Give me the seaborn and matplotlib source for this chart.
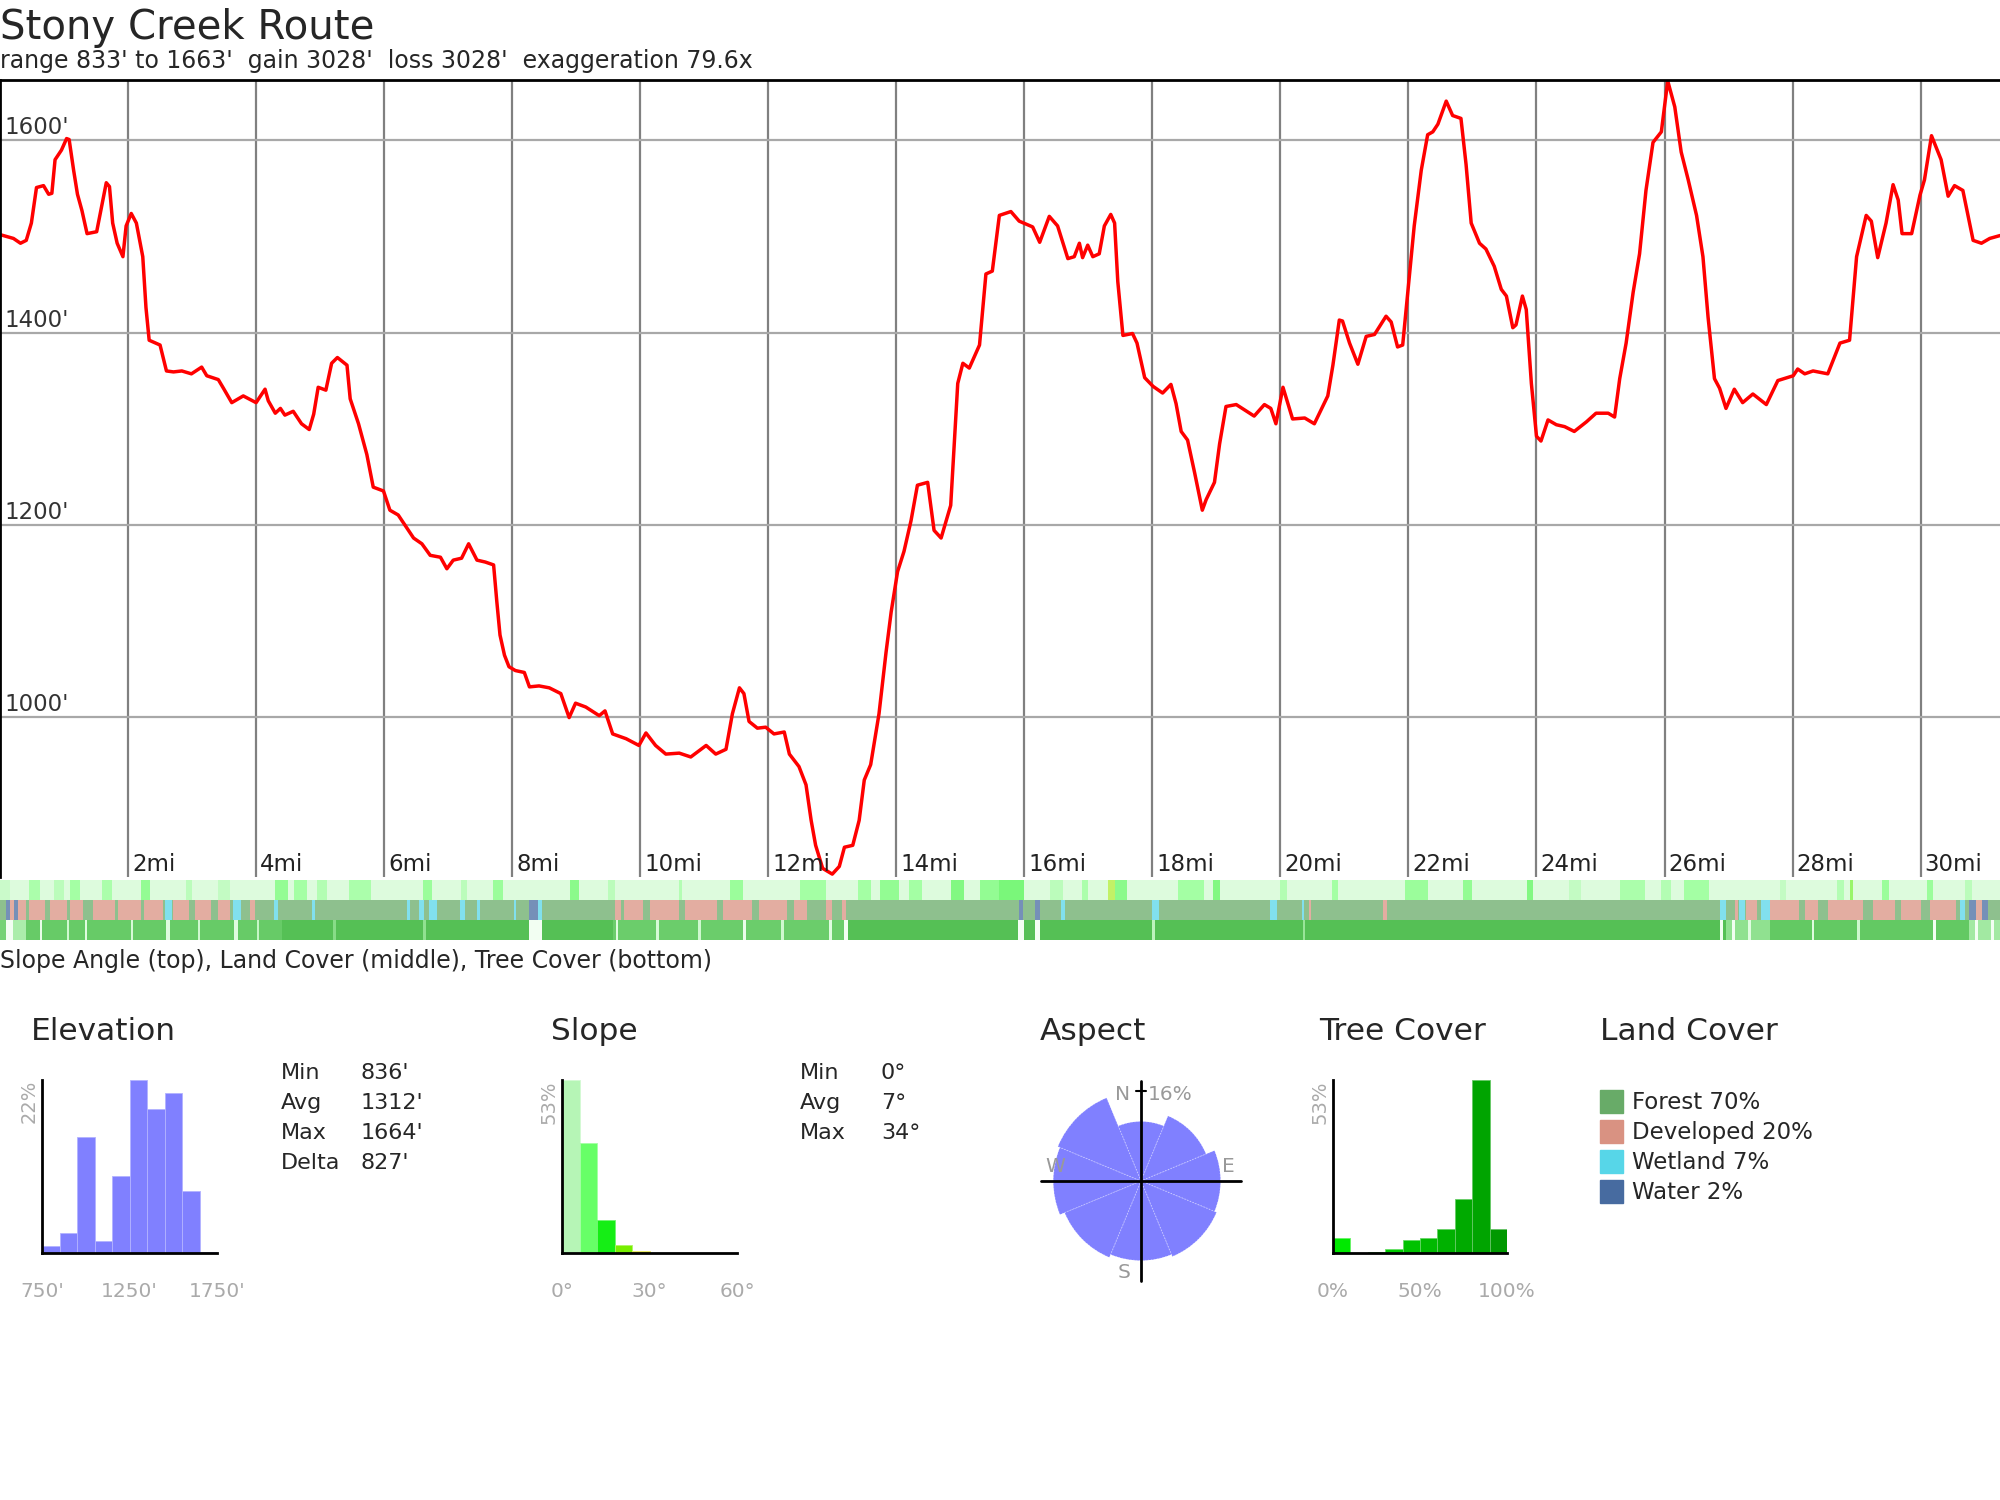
import numpy as np
import matplotlib
matplotlib.use("Agg")
import matplotlib.pyplot as plt
import seaborn as sns
from matplotlib.colors import LinearSegmentedColormap, to_rgb
from matplotlib.patches import Rectangle
from matplotlib.lines import Line2D

W, H = 2000, 1500

# --- elevation profile (miles, feet) ---
profile_mi = [0.00, 0.21, 0.32, 0.41, 0.49, 0.57, 0.68, 0.76, 0.81, 0.86,
              0.96, 1.04, 1.08, 1.15, 1.21, 1.28, 1.36, 1.51, 1.59, 1.66,
              1.71, 1.76, 1.83, 1.92, 1.97, 2.05, 2.13, 2.23, 2.28, 2.33,
              2.50, 2.60, 2.71, 2.84, 2.99, 3.15, 3.23, 3.41, 3.49, 3.62,
              3.80, 4.00, 4.14, 4.19, 4.30, 4.38, 4.45, 4.58, 4.71, 4.83,
              4.90, 4.97, 5.09, 5.18, 5.27, 5.42, 5.47, 5.60, 5.73, 5.83,
              5.99, 6.09, 6.22, 6.46, 6.59, 6.72, 6.88, 6.98, 7.08, 7.21,
              7.32, 7.45, 7.58, 7.71, 7.76, 7.81, 7.88, 7.95, 8.05, 8.19,
              8.27, 8.42, 8.58, 8.76, 8.89, 8.99, 9.15, 9.36, 9.45, 9.57,
              9.78, 9.98, 10.09, 10.24, 10.40, 10.61, 10.79, 11.03, 11.18, 11.34,
              11.44, 11.55, 11.62, 11.70, 11.83, 11.96, 12.09, 12.25, 12.33, 12.48,
              12.59, 12.67, 12.74, 12.85, 13.00, 13.11, 13.19, 13.32, 13.42, 13.50,
              13.60, 13.73, 13.84, 13.92, 14.02, 14.12, 14.23, 14.33, 14.49, 14.59,
              14.70, 14.85, 14.96, 15.04, 15.14, 15.30, 15.40, 15.50, 15.61, 15.79,
              15.92, 16.13, 16.24, 16.39, 16.52, 16.68, 16.78, 16.86, 16.91, 16.99,
              17.07, 17.17, 17.25, 17.35, 17.41, 17.46, 17.54, 17.69, 17.76, 17.88,
              18.01, 18.16, 18.29, 18.37, 18.45, 18.55, 18.66, 18.78, 18.84, 18.97,
              19.05, 19.15, 19.31, 19.59, 19.75, 19.85, 19.93, 20.04, 20.19, 20.38,
              20.53, 20.66, 20.74, 20.82, 20.92, 20.97, 21.08, 21.21, 21.34, 21.47,
              21.65, 21.73, 21.83, 21.91, 21.99, 22.09, 22.20, 22.30, 22.38, 22.46,
              22.59, 22.69, 22.82, 22.90, 22.98, 23.11, 23.21, 23.34, 23.45, 23.53,
              23.63, 23.68, 23.78, 23.84, 23.92, 24.00, 24.07, 24.18, 24.31, 24.44,
              24.59, 24.78, 24.93, 25.12, 25.22, 25.30, 25.40, 25.51, 25.61, 25.71,
              25.82, 25.95, 26.05, 26.16, 26.26, 26.37, 26.50, 26.60, 26.68, 26.78,
              26.86, 26.96, 27.09, 27.22, 27.38, 27.59, 27.77, 28.01, 28.08, 28.19,
              28.32, 28.55, 28.74, 28.89, 29.00, 29.15, 29.23, 29.33, 29.46, 29.57,
              29.65, 29.71, 29.86, 29.99, 30.06, 30.17, 30.32, 30.43, 30.53, 30.66,
              30.82, 30.95, 31.08, 31.24]
profile_ft = [1502, 1498, 1493, 1496, 1514, 1551, 1553, 1544, 1545, 1580,
              1590, 1602, 1601, 1569, 1544, 1527, 1503, 1505, 1532, 1556,
              1552, 1514, 1493, 1479, 1511, 1524, 1514, 1479, 1426, 1392,
              1387, 1360, 1359, 1360, 1357, 1364, 1355, 1351, 1342, 1327,
              1334, 1327, 1341, 1329, 1316, 1321, 1314, 1318, 1305, 1299,
              1315, 1343, 1340, 1368, 1374, 1366, 1331, 1305, 1273, 1239,
              1235, 1215, 1210, 1186, 1180, 1168, 1166, 1154, 1163, 1165,
              1180, 1163, 1161, 1158, 1120, 1085, 1064, 1052, 1048, 1046,
              1031, 1032, 1030, 1024, 999, 1014, 1010, 1001, 1006, 982,
              977, 970, 983, 970, 961, 962, 958, 970, 961, 966,
              1003, 1030, 1024, 995, 988, 989, 982, 984, 961, 948,
              929, 892, 866, 842, 836, 844, 864, 866, 892, 934,
              950, 1003, 1067, 1109, 1151, 1172, 1204, 1241, 1244, 1194,
              1186, 1220, 1347, 1368, 1363, 1387, 1461, 1464, 1522, 1526,
              1516, 1510, 1494, 1521, 1511, 1477, 1479, 1493, 1478, 1491,
              1479, 1482, 1511, 1523, 1514, 1453, 1397, 1399, 1389, 1353,
              1344, 1337, 1346, 1326, 1297, 1288, 1254, 1215, 1226, 1244,
              1284, 1323, 1325, 1313, 1325, 1321, 1305, 1343, 1310, 1311,
              1305, 1323, 1334, 1366, 1413, 1412, 1389, 1367, 1396, 1398,
              1417, 1411, 1385, 1387, 1442, 1511, 1569, 1606, 1609, 1617,
              1641, 1626, 1623, 1575, 1514, 1493, 1487, 1469, 1445, 1438,
              1405, 1408, 1438, 1424, 1347, 1292, 1287, 1309, 1304, 1302,
              1297, 1307, 1316, 1316, 1312, 1352, 1389, 1442, 1482, 1548,
              1598, 1609, 1662, 1635, 1588, 1559, 1522, 1479, 1416, 1352,
              1342, 1321, 1341, 1327, 1336, 1325, 1350, 1355, 1362, 1357,
              1360, 1357, 1389, 1392, 1479, 1522, 1516, 1478, 1514, 1554,
              1538, 1503, 1503, 1543, 1559, 1605, 1580, 1542, 1553, 1548,
              1496, 1493, 1498, 1501]

x_tick_mi = [2, 4, 6, 8, 10, 12, 14, 16, 18, 20, 22, 24, 26, 28, 30]
y_tick_ft = [1000, 1200, 1400, 1600]
route_end = 31.24
elev_range = (833, 1663)

# --- strips: (start mi, end mi, value) overrides on a base value ---
slope_base = 2
slope_segments = [
    (0.0, 0.15, 4), (0.45, 0.62, 8), (0.85, 1.0, 6), (1.1, 1.25, 9), (1.6, 1.75, 8),
    (2.2, 2.35, 11), (2.9, 3.0, 6), (3.4, 3.6, 5), (4.3, 4.5, 11), (4.6, 4.8, 9),
    (4.95, 5.1, 7), (5.45, 5.8, 8), (6.6, 6.75, 10), (7.2, 7.3, 6), (7.7, 7.85, 10),
    (8.9, 9.05, 12), (9.5, 9.6, 6), (10.6, 10.65, 7), (11.4, 11.6, 10), (12.5, 12.9, 9),
    (13.4, 13.6, 9), (13.75, 14.05, 11), (14.2, 14.4, 9), (14.85, 15.05, 13), (15.3, 15.6, 11),
    (15.6, 16.0, 14), (16.4, 16.6, 6), (16.9, 17.0, 8), (17.3, 17.42, 23), (17.42, 17.6, 12),
    (18.4, 18.8, 9), (18.95, 19.05, 13), (20.0, 20.1, 7), (20.8, 20.9, 9), (21.95, 22.3, 10),
    (22.85, 23.0, 11), (23.85, 23.95, 13), (24.5, 24.7, 5), (25.3, 25.7, 8), (25.95, 26.1, 7),
    (26.3, 26.7, 9), (27.8, 27.9, 5), (28.7, 28.8, 7), (28.9, 28.95, 19), (29.4, 29.5, 10),
    (30.1, 30.2, 10), (30.7, 30.8, 6),
]

land_base = 'Forest'
land_segments = [
    (0.10, 0.16, 'Water'), (0.16, 0.22, 'Developed'), (0.22, 0.28, 'Water'), (0.28, 0.40, 'Developed'),
    (0.45, 0.70, 'Developed'), (0.78, 1.05, 'Developed'), (1.10, 1.30, 'Developed'),
    (1.45, 1.80, 'Developed'), (1.85, 2.20, 'Developed'), (2.25, 2.55, 'Developed'),
    (2.58, 2.68, 'Wetland'), (2.70, 2.95, 'Developed'), (3.05, 3.30, 'Developed'),
    (3.40, 3.60, 'Developed'), (3.64, 3.76, 'Wetland'), (3.90, 3.98, 'Developed'),
    (4.28, 4.34, 'Wetland'), (4.88, 4.92, 'Wetland'), (6.35, 6.40, 'Wetland'),
    (6.55, 6.62, 'Wetland'), (6.70, 6.82, 'Wetland'), (7.18, 7.26, 'Wetland'),
    (7.45, 7.50, 'Wetland'), (8.03, 8.06, 'Wetland'), (8.27, 8.40, 'Water'),
    (8.40, 8.47, 'Wetland'), (9.60, 9.70, 'Developed'), (9.75, 10.05, 'Developed'),
    (10.15, 10.60, 'Developed'), (10.70, 11.20, 'Developed'), (11.30, 11.75, 'Developed'),
    (11.85, 12.30, 'Developed'), (12.40, 12.60, 'Developed'), (12.90, 13.00, 'Developed'),
    (13.15, 13.22, 'Developed'), (15.91, 15.98, 'Water'), (16.16, 16.24, 'Water'),
    (16.58, 16.63, 'Wetland'), (18.00, 18.10, 'Wetland'), (19.84, 19.95, 'Wetland'),
    (20.33, 20.37, 'Wetland'), (20.44, 20.48, 'Developed'), (21.60, 21.66, 'Developed'),
    (26.86, 26.96, 'Wetland'), (27.10, 27.15, 'Developed'), (27.17, 27.25, 'Wetland'),
    (27.28, 27.45, 'Developed'), (27.50, 27.64, 'Wetland'), (27.65, 28.10, 'Developed'),
    (28.20, 28.40, 'Developed'), (28.55, 29.10, 'Developed'), (29.25, 29.60, 'Developed'),
    (29.70, 30.00, 'Developed'), (30.15, 30.55, 'Developed'), (30.62, 30.70, 'Wetland'),
    (30.76, 30.86, 'Water'), (30.86, 30.96, 'Developed'), (30.96, 31.05, 'Water'),
]

tree_base = 88
tree_segments = [
    (0.00, 0.10, 70), (0.10, 0.20, 0), (0.20, 0.40, 40), (0.40, 4.40, 78), (0.62, 0.66, 5),
    (1.05, 1.08, 20), (1.32, 1.36, 10), (2.05, 2.08, 15), (2.60, 2.66, 10), (3.10, 3.13, 20),
    (3.66, 3.72, 10), (4.02, 4.05, 25), (5.20, 5.25, 60), (6.60, 6.65, 55), (8.27, 8.47, 0),
    (9.57, 13.25, 76), (9.62, 9.66, 10), (10.25, 10.30, 15), (10.90, 10.95, 20), (11.60, 11.66, 5),
    (12.20, 12.24, 20), (12.95, 13.00, 10), (13.18, 13.24, 0), (15.90, 16.00, 0), (16.16, 16.24, 0),
    (18.00, 18.04, 30), (20.35, 20.38, 50), (26.86, 26.92, 0), (26.96, 27.65, 55), (27.05, 27.10, 0),
    (27.30, 27.35, 10), (27.65, 30.75, 80), (28.30, 28.34, 10), (29.00, 29.05, 20), (30.20, 30.24, 0),
    (30.75, 31.24, 45), (30.85, 30.90, 0), (31.10, 31.15, 0),
]

# --- summary panels ---
elev_edges = [750, 850, 950, 1050, 1150, 1250, 1350, 1450, 1550, 1650, 1750]
elev_pct = [0.9, 2.6, 14.7, 1.5, 9.8, 22.0, 18.3, 20.4, 7.9, 0.1]
elev_stats = [("Min", "836'"), ("Avg", "1312'"), ("Max", "1664'"), ("Delta", "827'")]

slope_edges = [0, 6, 12, 18, 24, 30]
slope_pct = [53.0, 33.8, 10.2, 2.5, 0.5]
slope_stats = [("Min", "0°"), ("Avg", "7°"), ("Max", "34°")]

tree_edges = [0, 10, 20, 30, 40, 50, 60, 70, 80, 90, 100]
tree_pct = [4.6, 0.0, 0.2, 1.3, 3.9, 4.6, 7.4, 16.5, 53.0, 7.5]

aspect_deg = [0, 45, 90, 135, 180, 225, 270, 315]
aspect_pct = [7.0, 9.8, 12.5, 13.2, 12.5, 13.5, 15.2, 16.0]

land_classes = ['Forest', 'Developed', 'Wetland', 'Water']
land_pct = [70, 20, 7, 2]
land_colors = ['#68ab68', '#d99282', '#57d6e8', '#476ba0']

slope_cmap = LinearSegmentedColormap.from_list(
    'slope', [(0.0, '#e6ffe6'), (3 / 35, '#b4f5b4'), (9 / 35, '#66ff66'), (15 / 35, '#14ee14'),
              (21 / 35, '#77ee00'), (27 / 35, '#dddd00'), (1.0, '#ffaa00')])
tree_cmap = LinearSegmentedColormap.from_list(
    'tree', [(0.0, '#00ee00'), (0.35, '#00cc00'), (0.6, '#00b400'), (0.85, '#00a400'), (1.0, '#009400')])


def fx(px):
    return px / W


def fy(py):
    return 1 - py / H


def blend(color, alpha):
    r, g, b = to_rgb(color)
    return (alpha * r + 1 - alpha, alpha * g + 1 - alpha, alpha * b + 1 - alpha)


sns.set_theme(style='white')
plt.rcParams['font.family'] = ['DejaVu Sans']

fig = plt.figure(figsize=(W / 100, H / 100), dpi=100)

# header
fig.text(fx(0), fy(39), 'Stony Creek Route', fontsize=29, va='baseline')
fig.text(fx(0), fy(68), "range 833' to 1663'  gain 3028'  loss 3028'  exaggeration 79.6x",
         fontsize=17, va='baseline')

# --- elevation profile ---
ax = fig.add_axes([0, fy(877), 1, (877 - 80) / H])
sns.lineplot(x=profile_mi, y=profile_ft, ax=ax, color='#ff0000', linewidth=2.5,
             estimator=None, sort=False)
ax.set_xlim(0, route_end)
ax.set_ylim(*elev_range)
ax.set_xticks(x_tick_mi)
ax.set_yticks(y_tick_ft)
ax.tick_params(length=0, labelbottom=False, labelleft=False)
ax.xaxis.grid(True, color='#808080', linewidth=1.6)
ax.yaxis.grid(True, color='#a8a8a8', linewidth=1.6)
ax.set_axisbelow(True)
for side in ['right', 'bottom']:
    ax.spines[side].set_visible(False)
for side in ['top', 'left']:
    ax.spines[side].set_color('black')
    ax.spines[side].set_linewidth(2)
for t in y_tick_ft:
    ax.annotate(f"{t}'", xy=(0, t), xycoords=('axes fraction', 'data'), xytext=(4, 6),
                textcoords='offset pixels', va='baseline', ha='left', fontsize=16.5, color='#333333')
for t in x_tick_mi:
    ax.annotate(f"{t}mi", xy=(t, 0), xycoords=('data', 'axes fraction'), xytext=(4, 6),
                textcoords='offset pixels', va='baseline', ha='left', fontsize=16.5, color='#222222')

# --- color strips ---
ax_s = fig.add_axes([0, fy(940), 1, 60 / H])
ax_s.set_xlim(0, route_end)
ax_s.set_ylim(0, 3)
ax_s.set_axis_off()


def draw_strip(row, base, segments, color_of):
    ax_s.barh(row, route_end, left=0, height=1, color=color_of(base), linewidth=0,
              antialiased=False)
    for s, e, v in segments:
        ax_s.barh(row, e - s, left=s, height=1, color=color_of(v), linewidth=0,
                  antialiased=False)


land_lookup = dict(zip(land_classes, land_colors))
draw_strip(2.5, slope_base, slope_segments, lambda v: blend(slope_cmap(v / 35), 0.6))
draw_strip(1.5, land_base, land_segments, lambda v: blend(land_lookup[v], 0.75))
draw_strip(0.5, tree_base, tree_segments, lambda v: blend(tree_cmap(v / 100), 0.05 + 0.7 * v / 100))

fig.text(fx(0), fy(968), 'Slope Angle (top), Land Cover (middle), Tree Cover (bottom)',
         fontsize=17, va='baseline')

# --- summary panels ---
for name, px in [('Elevation', 31), ('Slope', 551), ('Aspect', 1040), ('Tree Cover', 1319),
                 ('Land Cover', 1600)]:
    fig.text(fx(px), fy(1040), name, fontsize=22.5, va='baseline')


def hist_panel(x0, x1, edges, pct, colors, ticks, labels):
    axh = fig.add_axes([fx(x0), fy(1253), (x1 - x0) / W, (1253 - 1080) / H])
    centers = [(a + b) / 2 for a, b in zip(edges[:-1], edges[1:])]
    sns.histplot(x=centers, weights=pct, bins=edges, ax=axh, color=colors[0], alpha=1,
                 edgecolor='white', linewidth=0.6)
    for p, c in zip(axh.patches, colors):
        p.set_facecolor(c)
        p.set_edgecolor(blend(c, 0.6))
    axh.set_xlim(edges[0], edges[-1])
    axh.set_ylim(0, max(pct))
    axh.set_xticks([])
    axh.set_yticks([])
    axh.set_xlabel('')
    axh.set_ylabel('')
    for side in ['top', 'right']:
        axh.spines[side].set_visible(False)
    for side in ['left', 'bottom']:
        axh.spines[side].set_color('black')
        axh.spines[side].set_linewidth(2)
    for t, lab in zip(ticks, labels):
        axh.annotate(lab, xy=(t, 0), xycoords=('data', 'axes fraction'), xytext=(0, -44),
                     textcoords='offset pixels', ha='center', va='baseline',
                     fontsize=14.5, color='#aaaaaa')
    axh.annotate(f"{max(pct):.0f}%", xy=(0, 1), xycoords='axes fraction', xytext=(-13, 0),
                 textcoords='offset pixels', ha='center', va='top', rotation=90,
                 fontsize=14, color='#aaaaaa')
    return axh


hist_panel(42, 217, elev_edges, elev_pct, ['#8080ff'] * len(elev_pct),
           [750, 1250, 1750], ["750'", "1250'", "1750'"])
slope_colors = [slope_cmap(((a + b) / 2) / 35) for a, b in zip(slope_edges[:-1], slope_edges[1:])]
hist_panel(562, 737, slope_edges + [60], slope_pct + [0.0], slope_colors + ['#ffffff'],
           [0, 30, 60], ['0°', '30°', '60°'])
tree_colors = [tree_cmap(((a + b) / 2) / 100) for a, b in zip(tree_edges[:-1], tree_edges[1:])]
hist_panel(1333, 1507, tree_edges, tree_pct, tree_colors,
           [0, 50, 100], ['0%', '50%', '100%'])

for i, (lab, val) in enumerate(elev_stats):
    fig.text(fx(281), fy(1079 + 30 * i), lab, fontsize=16, va='baseline')
    fig.text(fx(361), fy(1079 + 30 * i), val, fontsize=16, va='baseline')
for i, (lab, val) in enumerate(slope_stats):
    fig.text(fx(800), fy(1079 + 30 * i), lab, fontsize=16, va='baseline')
    fig.text(fx(881), fy(1079 + 30 * i), val, fontsize=16, va='baseline')

# aspect rose (radius ~ sqrt of share, 16% at 90 px)
rmax = np.sqrt(max(aspect_pct)) * 100 / 90
ax_r = fig.add_axes([fx(1041), fy(1281), 200 / W, 200 / H], projection='polar')
ax_r.set_theta_zero_location('N')
ax_r.set_theta_direction(-1)
ax_r.bar(np.deg2rad(aspect_deg), np.sqrt(aspect_pct), width=np.deg2rad(45), align='center',
         color='#8080ff', edgecolor=(1, 1, 1, 0.35), linewidth=0.8, linestyle=':')
ax_r.set_ylim(0, rmax)
ax_r.set_axis_off()
for ang in [0, 90, 180, 270]:
    ax_r.plot([np.deg2rad(ang)] * 2, [0, rmax], color='black', linewidth=2, clip_on=False)
ax_r.add_line(Line2D([0.475, 0.525], [0.95, 0.95], transform=ax_r.transAxes, color='black',
                     linewidth=1.5, clip_on=False))
for txt, x, y, ha in [('N', 0.445, 0.905, 'right'), ('16%', 0.535, 0.905, 'left'),
                      ('W', 0.02, 0.545, 'left'), ('E', 0.905, 0.545, 'left'),
                      ('S', 0.385, 0.015, 'left')]:
    ax_r.text(x, y, txt, transform=ax_r.transAxes, ha=ha, va='baseline', fontsize=14.5,
              color='#999999')

# land cover legend
for i, (name, pct, col) in enumerate(zip(land_classes, land_pct, land_colors)):
    fig.patches.append(Rectangle((fx(1600), fy(1113 + 30 * i)), 23 / W, 23 / H,
                                 transform=fig.transFigure, color=col))
    fig.text(fx(1632), fy(1109 + 30 * i), f"{name} {pct}%", fontsize=16.5, va='baseline')

fig.savefig('out.png', dpi=100, facecolor='white')
